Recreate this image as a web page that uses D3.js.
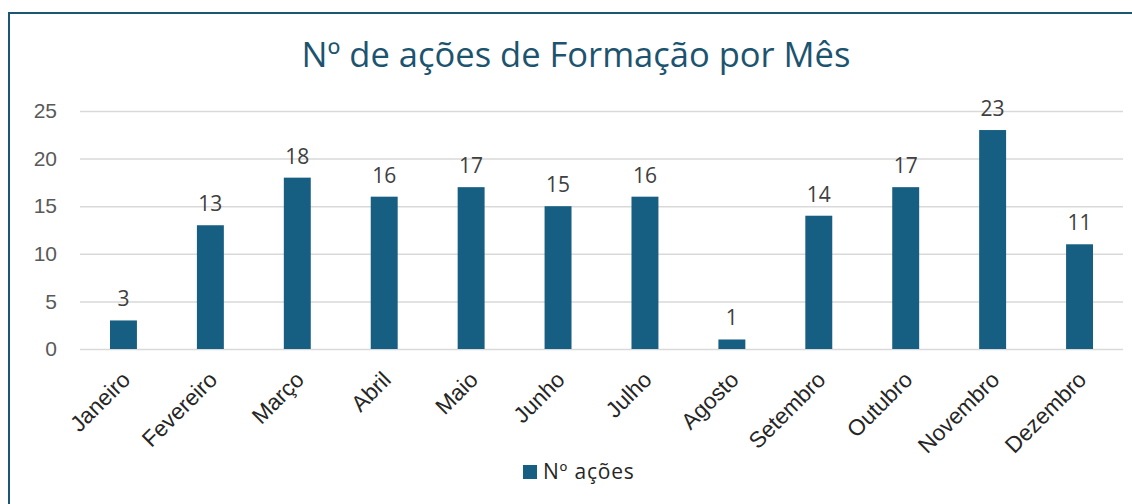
<!DOCTYPE html>
<meta charset="utf-8">
<style>
body { margin: 0; background: #fff; }
svg { font-family: "Open Sans", "Noto Sans", sans-serif; }
.grid line { stroke: #d9d9d9; stroke-width: 1.5; }
.grid .domain { display: none; }
.yaxis text { fill: #595959; font-size: 21px; }
.xaxis text { fill: #262626; font-size: 22.5px; }
.label { fill: #404040; font-size: 21px; }
</style>
<svg width="1132" height="504"></svg>
<script src="https://cdn.jsdelivr.net/npm/d3@7"></script>
<script>

var months = ["Janeiro", "Fevereiro", "Março", "Abril", "Maio", "Junho",
              "Julho", "Agosto", "Setembro", "Outubro", "Novembro", "Dezembro"];
var acoes = [3, 13, 18, 16, 17, 15, 16, 1, 14, 17, 23, 11];
var yTicks = [0, 5, 10, 15, 20, 25];

var svg = d3.select("svg");
var barColor = "#175f82";

// chart border (runs off the right and bottom edges)
svg.append("rect")
    .attr("x", 9).attr("y", 13)
    .attr("width", 1200).attr("height", 600)
    .attr("fill", "none")
    .attr("stroke", "#1b5673")
    .attr("stroke-width", 2);

svg.append("text")
    .attr("x", 576).attr("y", 67)
    .attr("text-anchor", "middle")
    .attr("fill", "#1c5470")
    .attr("font-size", 34.5)
    .text("Nº de ações de Formação por Mês");

var x = d3.scaleBand()
    .domain(months)
    .range([80, 1123])
    .paddingInner(0.69)
    .paddingOuter(0.345);

var y = d3.scaleLinear()
    .domain([0, 25])
    .range([349, 111]);

svg.append("g")
    .attr("class", "grid")
    .attr("transform", "translate(80,0)")
    .call(d3.axisLeft(y).tickValues(yTicks).tickSize(-1043).tickFormat(""));

svg.append("g")
    .attr("class", "yaxis")
    .attr("transform", "translate(57,0)")
    .call(d3.axisLeft(y).tickValues(yTicks).tickSize(0).tickPadding(0))
  .call(function(g) { g.select(".domain").remove(); });

svg.append("g")
    .selectAll("rect")
    .data(acoes)
    .enter().append("rect")
      .attr("x", function(d, i) { return x(months[i]); })
      .attr("y", function(d) { return y(d); })
      .attr("width", x.bandwidth())
      .attr("height", function(d) { return y(0) - y(d); })
      .attr("fill", barColor);

svg.append("g")
    .selectAll("text")
    .data(acoes)
    .enter().append("text")
      .attr("class", "label")
      .attr("text-anchor", "middle")
      .attr("x", function(d, i) { return x(months[i]) + x.bandwidth() / 2; })
      .attr("y", function(d) { return y(d) - 14; })
      .text(function(d) { return d; });

var xAxis = svg.append("g")
    .attr("class", "xaxis")
    .attr("transform", "translate(0,370)")
    .call(d3.axisBottom(x).tickSize(0).tickPadding(0));
xAxis.select(".domain").remove();
xAxis.selectAll("text")
    .attr("text-anchor", "end")
    .attr("dy", "0.7em")
    .attr("transform", "translate(-3,0) rotate(-45)");

// legend
var legend = svg.append("g").attr("transform", "translate(523,465)");
legend.append("rect")
    .attr("width", 14).attr("height", 14)
    .attr("fill", barColor);
legend.append("text")
    .attr("x", 20).attr("y", 13.5)
    .attr("fill", "#262626")
    .attr("font-size", 21)
    .attr("letter-spacing", 0.8)
    .text("Nº ações");

</script>
